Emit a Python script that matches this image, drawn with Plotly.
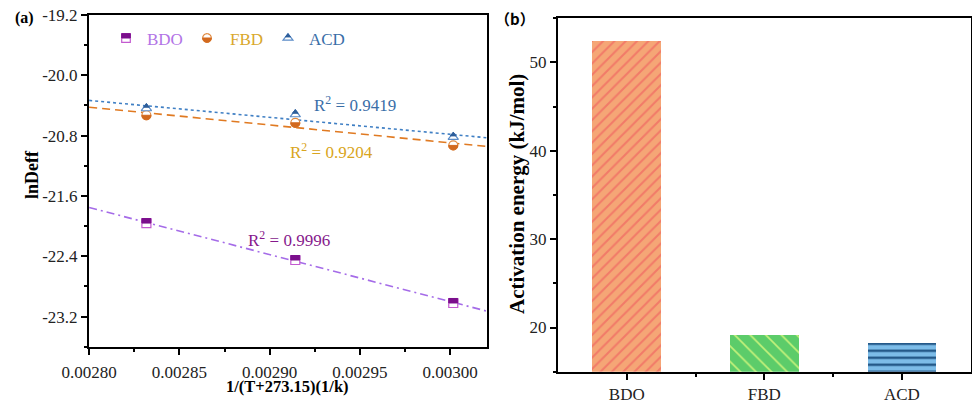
import numpy as np
import plotly.graph_objects as go

# ---------------- data ----------------
inv_T = [0.0028317, 0.0029142, 0.0030017]          # 1/(T+273.15)
lnD_BDO = [-21.96, -22.45, -23.02]
lnD_FBD = [-20.53, -20.63, -20.93]
lnD_ACD = [-20.44, -20.52, -20.82]
r2_text = {"BDO": "0.9996", "FBD": "0.9204", "ACD": "0.9419"}

solvents = ["BDO", "FBD", "ACD"]
Ea = [52.4, 19.13, 18.26]

x_ticks = [0.00280, 0.00285, 0.00290, 0.00295, 0.00300]
x_ticktext = ["0.00280", "0.00285", "0.00290", "0.00295", "0.00300"]
y_ticks_a = [-19.2, -20.0, -20.8, -21.6, -22.4, -23.2]
y_ticktext_a = ["-19.2", "-20.0", "-20.8", "-21.6", "-22.4", "-23.2"]
y_ticks_b = [20, 30, 40, 50]

# ---------------- style ----------------
# body margin is removed by post_script, so the figure fills the window
OX, OY = 0, 0
W, H = 972 - OX, 406 - OY
FONT = "Liberation Serif"


def px(X):  # window pixel -> paper x
    return (X - OX) / W


def py(Y):  # window pixel -> paper y
    return 1 - (Y - OY) / H


sty = {
    "BDO": dict(fill="#7b0f8c", edge="#c35ad0", line="#a56ce8", rtext="#86198c", ltext="#b274e6",
                dash="8px,4px,2px,4px", kind="square"),
    "FBD": dict(fill="#d2691e", edge="#e08a40", line="#e07a22", rtext="#d9a520", ltext="#d9a82c",
                dash="8px,5px", kind="circle"),
    "ACD": dict(fill="#2e5e9a", edge="#5b8cc8", line="#3f7fc4", rtext="#3a6ea8", ltext="#3a6ea8",
                dash="3px,3px", kind="triangle"),
}
series = {"BDO": lnD_BDO, "FBD": lnD_FBD, "ACD": lnD_ACD}

fig = go.Figure()
shapes = []


def poly(pts):
    return "M " + " L ".join(f"{a:.2f},{b:.2f}" for a, b in pts) + " Z"


def glyph(kind, xa, ya, xref, yref, r, fill, edge, with_outline):
    out = []
    base = dict(xref=xref, yref=yref, xsizemode="pixel", ysizemode="pixel",
                xanchor=xa, yanchor=ya, layer="above")
    if kind == "square":
        if with_outline:
            out.append(dict(type="rect", x0=-r, x1=r, y0=-r, y1=r, fillcolor="white",
                            line=dict(color=edge, width=1.2), **base))
        out.append(dict(type="rect", x0=-r, x1=r, y0=0, y1=r, fillcolor=fill,
                        line=dict(color=fill, width=1), **base))
    elif kind == "circle":
        if with_outline:
            th = np.linspace(0, 2 * np.pi, 40)
            out.append(dict(type="path", path=poly(zip(r * np.cos(th), r * np.sin(th))),
                            fillcolor="white", line=dict(color=edge, width=1.2), **base))
        th = np.linspace(np.pi, 2 * np.pi, 24)
        out.append(dict(type="path", path=poly(zip(r * np.cos(th), r * np.sin(th))),
                        fillcolor=fill, line=dict(color=fill, width=1), **base))
    else:
        rt = r * 2 / np.sqrt(3)
        if with_outline:
            out.append(dict(type="path", path=poly([(0, r), (-rt, -r / 2), (rt, -r / 2)]),
                            fillcolor="white", line=dict(color=edge, width=1.2), **base))
        out.append(dict(type="path", path=poly([(0, r), (-rt / 2, r / 4), (rt / 2, r / 4)]),
                        fillcolor=fill, line=dict(color=fill, width=1), **base))
    return out


# ---------------- panel (a) ----------------
xfit = np.array([0.00280, 0.00302])
for name in ["BDO", "FBD", "ACD"]:
    s = sty[name]
    yv = series[name]
    k, b = np.polyfit(inv_T, yv, 1)
    fig.add_trace(go.Scatter(x=xfit, y=k * xfit + b, mode="lines", xaxis="x", yaxis="y",
                             line=dict(color=s["line"], width=1.6, dash=s["dash"]),
                             showlegend=False, hoverinfo="skip"))
for name in ["BDO", "FBD", "ACD"]:
    s = sty[name]
    yv = series[name]
    sym = {"square": "square", "circle": "circle", "triangle": "triangle-up"}[s["kind"]]
    fig.add_trace(go.Scatter(x=inv_T, y=yv, mode="markers", xaxis="x", yaxis="y",
                             marker=dict(symbol=sym, size=9, color="white",
                                         line=dict(color=s["edge"], width=1.2)),
                             showlegend=False, name=name))
    rr = 4.5 if s["kind"] != "triangle" else 5
    for xv, yy in zip(inv_T, yv):
        shapes += glyph(s["kind"], xv, yy, "x", "y", rr, s["fill"], s["edge"], False)

# custom legend (half-filled glyphs)
leg_pos = {"BDO": (126, 165, 38), "FBD": (207, 246, 38), "ACD": (288, 327, 38)}
annotations = []
for name, (mx, tx, my) in leg_pos.items():
    s = sty[name]
    shapes += glyph(s["kind"], px(mx), py(my), "paper", "paper", 4.3, s["fill"], s["edge"], True)
    annotations.append(dict(x=px(tx), y=py(my + 2), xref="paper", yref="paper", text=name,
                            xanchor="center", yanchor="middle",
                            showarrow=False, font=dict(family=FONT, size=17, color=s["ltext"])))

# R^2 labels
r2_pos = {"ACD": (0.0029473, -20.383), "FBD": (0.002934, -21.0), "BDO": (0.0029107, -22.175)}
for name, (xp, yp) in r2_pos.items():
    annotations.append(dict(x=xp, y=yp, xref="x", yref="y", showarrow=False,
                            xanchor="center", yanchor="middle",
                            text=f"R<sup>2</sup> = {r2_text[name]}",
                            font=dict(family=FONT, size=17, color=sty[name]["rtext"])))

# ---------------- panel (b) ----------------
bar_bg = ["#f5a676", "#5ccc6a", "#7cbce8"]
bar_fg = ["#f27a68", "#c4f27a", "#16497a"]
bar_shape = ["/", "\\", "-"]
bar_size = [8, 11, 7]
bar_sol = [0.25, 0.15, 0.3]
for i, nm in enumerate(solvents):
    fig.add_trace(go.Bar(x=[nm], y=[Ea[i]], xaxis="x2", yaxis="y2", width=0.5, showlegend=False,
                         marker=dict(color=bar_bg[i], line=dict(width=0),
                                     pattern=dict(shape=bar_shape[i], fgcolor=bar_fg[i],
                                                  bgcolor=bar_bg[i], size=bar_size[i],
                                                  solidity=bar_sol[i], fillmode="replace")),
                         base=0))

axis_common = dict(showline=True, linecolor="black", linewidth=2, ticks="outside", ticklen=6,
                   tickwidth=2, tickcolor="black", showgrid=False, zeroline=False,
                   automargin=False, layer="above traces", ticklabeloverflow="allow",
                   tickfont=dict(family=FONT, size=17, color="#222"))

annotations += [
    dict(x=px(32), y=py(175), text="<b>lnDeff</b>", textangle=-90,
         font=dict(family=FONT, size=18, color="black")),
    dict(x=px(287), y=py(386), text="<b>1/(T+273.15)(1/k)</b>",
         font=dict(family=FONT, size=16.5, color="black")),
    dict(x=px(517), y=py(194), text="<b>Activation energy (kJ/mol)</b>", textangle=-90,
         font=dict(family=FONT, size=21, color="black")),
    dict(x=px(24), y=py(18), text="<b>(a)</b>",
         font=dict(family=FONT, size=16, color="black")),
    dict(x=px(515), y=py(18), text="<b>（b）</b>",
         font=dict(family="Noto Sans CJK SC", size=15, color="black")),
]
for a in annotations[-5:]:
    a.update(xref="paper", yref="paper", showarrow=False, xanchor="center", yanchor="middle")

fig.update_layout(
    width=W, height=H, margin=dict(l=0, r=0, t=0, b=0, autoexpand=False),
    paper_bgcolor="white", plot_bgcolor="white", showlegend=False, bargap=0,
    xaxis=dict(domain=[px(89), px(487)], range=[0.0027999, 0.0030204], tickvals=x_ticks,
               ticktext=x_ticktext, mirror=True, ticklabelstandoff=3,
               minor=dict(ticks="outside", ticklen=3, tickwidth=2, tickcolor="black", dtick=0.00005,
                          tick0=0.000025),
               anchor="y", **axis_common),
    yaxis=dict(domain=[py(346.7), py(15)], range=[-23.6, -19.1999], tickvals=y_ticks_a,
               ticktext=y_ticktext_a, mirror=True,
               minor=dict(ticks="outside", ticklen=3, tickwidth=2, tickcolor="black", dtick=0.8,
                          tick0=-19.6),
               anchor="x", **axis_common),
    xaxis2=dict(domain=[px(558), px(970.7)], range=[-0.5, 2.5], mirror=True,
                categoryorder="array", categoryarray=solvents,
                minor=dict(ticks="outside", ticklen=3, tickwidth=2, tickcolor="black",
                           tickvals=[0.5, 1.5]),
                anchor="y2", **axis_common),
    yaxis2=dict(domain=[py(371.7), py(18.3)], range=[15, 55], tickvals=y_ticks_b, mirror=True,
                minor=dict(ticks="outside", ticklen=3, tickwidth=2, tickcolor="black", dtick=10,
                           tick0=15),
                anchor="x2", **axis_common),
    shapes=shapes,
    annotations=annotations,
)

fig.write_html("out.html", config={"displayModeBar": False},
               post_script="document.body.style.margin='0';document.body.style.overflow='hidden';")
